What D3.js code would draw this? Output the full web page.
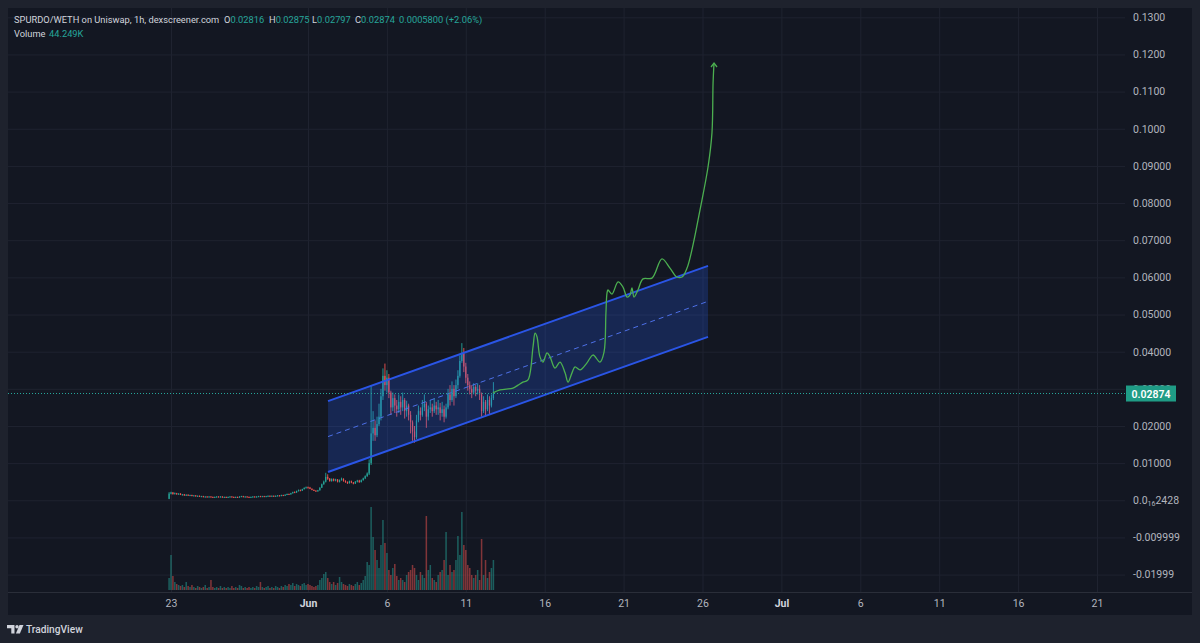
<!DOCTYPE html>
<html><head><meta charset="utf-8">
<script src="https://cdn.jsdelivr.net/npm/d3@7"></script>
<style>
html,body{margin:0;padding:0;background:#1e222d;overflow:hidden;}
svg{display:block;}
text{font-family:Roboto,"Noto Sans",sans-serif;}
</style></head><body>
<svg id="c" width="1200" height="643"></svg>
<script>
// ---------------- DATA ----------------
const candleStartISO = "2023-05-22T21:00";
const candleHours = 3;
const opens = [
0.0004,0.0018,0.0021,0.0017,0.0019,0.0016,0.0018,0.0015,0.0016,0.0013,
0.0015,0.0013,0.0014,0.0012,0.0013,0.0011,0.0012,0.0010,0.0011,0.0009,
0.0010,0.0009,0.0010,0.0009,0.0008,0.0009,0.0010,0.0009,0.0010,0.0008,
0.0009,0.0008,0.0009,0.0010,0.0009,0.0008,0.0009,0.0008,0.0010,0.0011,
0.0009,0.0010,0.0009,0.0008,0.0009,0.0010,0.0009,0.0010,0.0011,0.0010,
0.0011,0.0010,0.0011,0.0012,0.0011,0.0012,0.0011,0.0012,0.0013,0.0012,
0.0014,0.0013,0.0015,0.0017,0.0016,0.0019,0.0022,0.0021,0.0025,0.0027,
0.0026,0.0030,0.0033,0.0035,0.0034,0.0031,0.0028,0.0026,0.0024,0.0027,
0.0034,0.0043,0.0050,0.0063,0.0058,0.0052,0.0057,0.0053,0.0056,0.0050,
0.0054,0.0058,0.0052,0.0049,0.0046,0.0051,0.0048,0.0045,0.0050,0.0053,
0.0049,0.0054,0.0059,0.0065,
0.0072,0.0100,0.0180,0.0195,0.0175,0.0205,0.0225,0.0280,0.0335,0.0310,
0.0330,0.0290,0.0250,0.0275,0.0255,0.0245,0.0265,0.0250,0.0270,0.0240,
0.0255,0.0230,0.0210,0.0185,0.0170,0.0215,0.0240,0.0230,0.0250,0.0260,
0.0225,0.0245,0.0250,0.0240,0.0255,0.0245,0.0250,0.0235,0.0245,0.0225,
0.0250,0.0285,0.0270,0.0300,0.0280,0.0310,0.0335,0.0375,0.0395,0.0360,
0.0330,0.0310,0.0300,0.0290,0.0305,0.0295,0.0300,0.0285,0.0240,0.0265,
0.0245,0.0270,0.0255,0.0275];
const closes = [
0.0018,0.0021,0.0017,0.0019,0.0016,0.0018,0.0015,0.0016,0.0013,0.0015,
0.0013,0.0014,0.0012,0.0013,0.0011,0.0012,0.0010,0.0011,0.0009,0.0010,
0.0009,0.0010,0.0009,0.0008,0.0009,0.0010,0.0009,0.0010,0.0008,0.0009,
0.0008,0.0009,0.0010,0.0009,0.0008,0.0009,0.0008,0.0010,0.0011,0.0009,
0.0010,0.0009,0.0008,0.0009,0.0010,0.0009,0.0010,0.0011,0.0010,0.0011,
0.0010,0.0011,0.0012,0.0011,0.0012,0.0011,0.0012,0.0013,0.0012,0.0014,
0.0013,0.0015,0.0017,0.0016,0.0019,0.0022,0.0021,0.0025,0.0027,0.0026,
0.0030,0.0033,0.0035,0.0034,0.0031,0.0028,0.0026,0.0024,0.0027,0.0034,
0.0043,0.0050,0.0063,0.0058,0.0052,0.0057,0.0053,0.0056,0.0050,0.0054,
0.0058,0.0052,0.0049,0.0046,0.0051,0.0048,0.0045,0.0050,0.0053,0.0049,
0.0054,0.0059,0.0065,0.0072,
0.0100,0.0180,0.0195,0.0175,0.0205,0.0225,0.0280,0.0335,0.0310,0.0330,
0.0290,0.0250,0.0275,0.0255,0.0245,0.0265,0.0250,0.0270,0.0240,0.0255,
0.0230,0.0210,0.0185,0.0170,0.0215,0.0240,0.0230,0.0250,0.0260,0.0225,
0.0245,0.0250,0.0240,0.0255,0.0245,0.0250,0.0235,0.0245,0.0225,0.0250,
0.0285,0.0270,0.0300,0.0280,0.0310,0.0335,0.0375,0.0395,0.0360,0.0330,
0.0310,0.0300,0.0290,0.0305,0.0295,0.0300,0.0285,0.0240,0.0265,0.0245,
0.0270,0.0255,0.0275,0.0287];
const highs = [
0.0022,0.0023,0.0022,0.0021,0.0020,0.0019,0.0019,0.0017,0.0017,0.0016,
0.0016,0.0015,0.0015,0.0014,0.0014,0.0013,0.0013,0.0012,0.0012,0.0011,
0.0011,0.0011,0.0011,0.0010,0.0010,0.0011,0.0011,0.0011,0.0011,0.0010,
0.0010,0.0010,0.0011,0.0011,0.0010,0.0010,0.0010,0.0011,0.0012,0.0012,
0.0011,0.0011,0.0010,0.0010,0.0011,0.0011,0.0011,0.0012,0.0012,0.0012,
0.0012,0.0012,0.0013,0.0013,0.0013,0.0013,0.0013,0.0014,0.0014,0.0015,
0.0015,0.0016,0.0018,0.0018,0.0020,0.0023,0.0024,0.0026,0.0029,0.0029,
0.0031,0.0035,0.0037,0.0037,0.0036,0.0032,0.0029,0.0027,0.0028,0.0035,
0.0045,0.0053,0.0074,0.0070,0.0060,0.0059,0.0059,0.0058,0.0057,0.0056,
0.0061,0.0059,0.0054,0.0051,0.0053,0.0053,0.0049,0.0052,0.0055,0.0055,
0.0056,0.0061,0.0067,0.0075,
0.0110,0.0310,0.0240,0.0215,0.0225,0.0260,0.0300,0.0355,0.0368,0.0350,
0.0340,0.0295,0.0290,0.0285,0.0270,0.0285,0.0280,0.0290,0.0275,0.0268,
0.0260,0.0240,0.0215,0.0200,0.0230,0.0255,0.0250,0.0270,0.0285,0.0265,
0.0255,0.0270,0.0260,0.0275,0.0265,0.0270,0.0262,0.0265,0.0255,0.0260,
0.0300,0.0310,0.0320,0.0310,0.0325,0.0350,0.0390,0.0423,0.0410,0.0370,
0.0340,0.0320,0.0310,0.0315,0.0310,0.0315,0.0310,0.0290,0.0280,0.0270,
0.0285,0.0280,0.0285,0.0318];
const lows = [
0.0003,0.0016,0.0015,0.0016,0.0015,0.0015,0.0014,0.0013,0.0012,0.0012,
0.0012,0.0012,0.0011,0.0011,0.0010,0.0010,0.0009,0.0009,0.0008,0.0008,
0.0008,0.0008,0.0008,0.0007,0.0007,0.0008,0.0008,0.0008,0.0007,0.0007,
0.0007,0.0007,0.0008,0.0008,0.0007,0.0007,0.0007,0.0007,0.0009,0.0008,
0.0008,0.0008,0.0007,0.0007,0.0008,0.0008,0.0008,0.0009,0.0009,0.0009,
0.0009,0.0009,0.0010,0.0010,0.0010,0.0010,0.0010,0.0011,0.0011,0.0011,
0.0012,0.0012,0.0014,0.0015,0.0015,0.0018,0.0020,0.0020,0.0024,0.0025,
0.0025,0.0029,0.0032,0.0032,0.0030,0.0027,0.0025,0.0023,0.0023,0.0026,
0.0033,0.0042,0.0048,0.0055,0.0050,0.0050,0.0051,0.0051,0.0048,0.0048,
0.0053,0.0050,0.0047,0.0044,0.0045,0.0046,0.0043,0.0044,0.0048,0.0047,
0.0048,0.0053,0.0057,0.0063,
0.0068,0.0095,0.0160,0.0160,0.0170,0.0200,0.0215,0.0270,0.0295,0.0290,
0.0275,0.0230,0.0240,0.0235,0.0225,0.0235,0.0230,0.0240,0.0220,0.0225,
0.0215,0.0180,0.0160,0.0155,0.0165,0.0210,0.0215,0.0225,0.0240,0.0195,
0.0215,0.0235,0.0225,0.0235,0.0230,0.0230,0.0215,0.0225,0.0210,0.0220,
0.0245,0.0255,0.0265,0.0255,0.0275,0.0300,0.0330,0.0370,0.0345,0.0315,
0.0295,0.0285,0.0275,0.0285,0.0280,0.0285,0.0270,0.0225,0.0235,0.0225,
0.0240,0.0230,0.0250,0.0270];
const volumesK = [
12,35,14,8,6,5,4,5,3,8, 4,3,5,3,2,4,3,2,3,5, 2,3,10,3,2,3,2,4,2,3,
2,3,2,4,2,3,2,5,4,2, 3,2,3,2,3,2,4,3,8,3, 2,3,4,2,3,2,4,3,2,4,
3,5,4,6,5,7,4,6,5,4, 6,7,5,6,5,4,3,4,5,10, 12,16,18,12,8,6,8,5,7,13,
8,6,5,4,6,5,4,6,8,5, 7,10,14,28,
25,83,53,40,30,22,45,70,47,37, 20,15,22,26,14,10,12,10,8,15,
18,20,25,22,15,10,18,15,12,74, 20,25,12,10,8,15,18,20,30,58,
15,25,18,20,30,54,35,78,45,40, 25,22,15,12,15,20,10,51,15,30,
12,18,22,30];

// projected path (hand drawing): day of June (fractional) and price
const projDay = [12.72,13.17,13.99,14.31,14.62,14.94,15.26,15.39,15.51,15.70,15.89,16.15,16.34,16.65,16.97,17.29,17.48,17.73,17.92,18.24,18.68,19.06,19.50,19.76,19.88,19.95,20.01,20.26,20.65,20.96,21.22,21.41,21.53,21.66,21.91,22.23,22.80,23.43,23.94,24.38,24.70,25.02,25.33,25.84,26.35,26.60,26.67,26.73];
const projValue = [0.0289,0.0297,0.0302,0.0310,0.0318,0.0324,0.0413,0.0450,0.0440,0.0386,0.0372,0.0397,0.0386,0.0356,0.0372,0.0343,0.0318,0.0343,0.0359,0.0351,0.0370,0.0391,0.0372,0.0399,0.0504,0.0558,0.0566,0.0555,0.0588,0.0574,0.0547,0.0553,0.0572,0.0547,0.0566,0.0596,0.0598,0.0650,0.0625,0.0601,0.0601,0.0625,0.0674,0.0781,0.0897,0.0989,0.1123,0.1177];

// parallel channel (day of June, price)
const channelDay = [2.27, 26.35];
const channelUpper = [0.0267, 0.0631];
const channelLower = [0.0076, 0.0440];

const lastPrice = 0.02874;
const lastPriceLabel = "0.02874";

const yTickValues = [0.13,0.12,0.11,0.10,0.09,0.08,0.07,0.06,0.05,0.04,0.03,0.02,0.01,0,-0.01,-0.02];
const yTickLabels = ["0.1300","0.1200","0.1100","0.1000","0.09000","0.08000","0.07000","0.06000","0.05000","0.04000","0.03000","0.02000","0.01000","0.0|16|2428","-0.009999","-0.01999"];
const xTickDates = ["2023-05-23","2023-06-01","2023-06-06","2023-06-11","2023-06-16","2023-06-21","2023-06-26","2023-07-01","2023-07-06","2023-07-11","2023-07-16","2023-07-21"];
const xTickLabels = ["23","Jun","6","11","16","21","26","Jul","6","11","16","21"];

const legendTitle = "SPURDO/WETH on Uniswap, 1h, dexscreener.com";
const legendOHLC = [["O","0.02816"],["H","0.02875"],["L","0.02797"],["C","0.02874"]];
const legendChange = "0.0005800 (+2.06%)";
const legendVolume = "44.249K";

// ---------------- CHART ----------------
const W = 1200, H = 643;
const paneL = 8, paneR = 1192, paneT = 8, paneB = 592, axisB = 615, plotR = 1125;
const UP = "#26a69a", DOWN = "#ef5350";
const svg = d3.select("#c");

const parseDay = d3.timeParse("%Y-%m-%d");
const parseISO = d3.timeParse("%Y-%m-%dT%H:%M");
const x = d3.scaleTime()
  .domain([parseDay("2023-05-23"), parseDay("2023-06-01"), parseDay("2023-07-21")])
  .range([171, 308, 1097]);
const y = d3.scaleLinear().domain([-0.02, 0.13]).range([574.6, 17.3]);
const yVol = d3.scaleLinear().domain([0, 100]).range([590, 490]);
const junDay = d => new Date(+parseDay("2023-06-01") + (d - 1) * 86400000);

svg.append("rect").attr("width", W).attr("height", H).attr("fill", "#1e222d");
svg.append("rect").attr("x", paneL).attr("y", paneT).attr("width", paneR - paneL)
  .attr("height", axisB - paneT).attr("fill", "#131722");

const defs = svg.append("defs");
defs.append("clipPath").attr("id", "plot").append("rect")
  .attr("x", paneL).attr("y", paneT).attr("width", plotR - paneL).attr("height", paneB - paneT);

// grid
const grid = svg.append("g").attr("clip-path", "url(#plot)");
grid.append("g").attr("transform", `translate(0,${paneB})`)
  .call(d3.axisBottom(x).tickValues(xTickDates.map(parseDay)).tickSize(-(paneB - paneT)).tickFormat(""))
  .call(g => g.select(".domain").remove())
  .call(g => g.selectAll("line").attr("stroke", "#1f2330").attr("stroke-width", 1));
grid.append("g").attr("transform", `translate(${paneL},0)`)
  .call(d3.axisRight(y).tickValues(yTickValues).tickSize(plotR - paneL).tickFormat(""))
  .call(g => g.select(".domain").remove())
  .call(g => g.selectAll("line").attr("stroke", "#1f2330").attr("stroke-width", 1));

// separator lines
svg.append("line").attr("x1", paneL).attr("x2", paneR).attr("y1", paneB + 0.5).attr("y2", paneB + 0.5).attr("stroke", "#2a2e39");

const candles = closes.map((c, i) => ({
  t: new Date(+parseISO(candleStartISO) + i * candleHours * 3600000),
  o: opens[i], h: highs[i], l: lows[i], c: c, v: volumesK[i]
}));
const step = x(candles[1].t) - x(candles[0].t);
const plot = svg.append("g").attr("clip-path", "url(#plot)");

// volume
plot.append("g").selectAll("rect").data(candles).join("rect")
  .attr("x", d => x(d.t) - step * 0.4)
  .attr("width", step * 0.8)
  .attr("y", d => yVol(d.v))
  .attr("height", d => yVol(0) - yVol(d.v))
  .attr("fill", d => d.c >= d.o ? UP : DOWN)
  .attr("opacity", 0.5);

// candles
const cg = plot.append("g");
cg.selectAll("line").data(candles).join("line")
  .attr("x1", d => x(d.t)).attr("x2", d => x(d.t))
  .attr("y1", d => y(d.h)).attr("y2", d => y(d.l))
  .attr("stroke", d => d.c >= d.o ? UP : DOWN).attr("stroke-width", 0.9);
const bw = Math.max(1, step * 0.65);
cg.selectAll("rect").data(candles).join("rect")
  .attr("x", d => x(d.t) - bw / 2).attr("width", bw)
  .attr("y", d => y(Math.max(d.o, d.c)))
  .attr("height", d => Math.max(1, Math.abs(y(d.o) - y(d.c))))
  .attr("fill", d => d.c >= d.o ? UP : DOWN);

// channel
const cx0 = x(junDay(channelDay[0])), cx1 = x(junDay(channelDay[1]));
const chan = plot.append("g");
chan.append("path")
  .attr("d", `M${cx0},${y(channelUpper[0])}L${cx1},${y(channelUpper[1])}L${cx1},${y(channelLower[1])}L${cx0},${y(channelLower[0])}Z`)
  .attr("fill", "rgba(41,98,255,0.22)");
[channelUpper, channelLower].forEach(arr => {
  chan.append("line").attr("x1", cx0).attr("x2", cx1).attr("y1", y(arr[0])).attr("y2", y(arr[1]))
    .attr("stroke", "#2a55e6").attr("stroke-width", 2);
});
chan.append("line").attr("x1", cx0).attr("x2", cx1)
  .attr("y1", y((channelUpper[0] + channelLower[0]) / 2)).attr("y2", y((channelUpper[1] + channelLower[1]) / 2))
  .attr("stroke", "#4d70e8").attr("stroke-width", 1).attr("stroke-dasharray", "5,4");

// projection line
const proj = projDay.map((d, i) => [x(junDay(d)), y(projValue[i])]);
plot.append("path").attr("d", d3.line().curve(d3.curveCatmullRom.alpha(0.5))(proj))
  .attr("fill", "none").attr("stroke", "#4caf50").attr("stroke-width", 1.3);
const [ax, ay] = proj[proj.length - 1];
plot.append("path").attr("d", `M${ax - 3},${ay + 4}L${ax},${ay}L${ax + 3},${ay + 4}`)
  .attr("fill", "none").attr("stroke", "#4caf50").attr("stroke-width", 1.3);

// last price dotted line
svg.append("line").attr("x1", paneL).attr("x2", plotR + 1).attr("y1", y(lastPrice)).attr("y2", y(lastPrice))
  .attr("stroke", UP).attr("stroke-width", 1).attr("stroke-dasharray", "1,2");

// y axis labels
const yAx = svg.append("g").attr("transform", `translate(1133,0)`)
  .call(d3.axisRight(y).tickValues(yTickValues).tickSize(0).tickPadding(0)
    .tickFormat((d, i) => yTickLabels[i]))
  .call(g => g.select(".domain").remove());
yAx.selectAll("text").attr("fill", "#b2b5be").attr("font-size", "10.5px")
  .attr("font-family", "Roboto, 'Noto Sans', sans-serif")
  .each(function (d, i) {
    const lab = yTickLabels[i];
    if (lab.includes("|")) {
      const parts = lab.split("|");
      const t = d3.select(this).text(null);
      t.append("tspan").text(parts[0]);
      t.append("tspan").text(parts[1]).attr("font-size", "7px").attr("dy", "2");
      t.append("tspan").text(parts[2]).attr("dy", "-2");
    }
  });

// price label
const py = y(lastPrice);
svg.append("rect").attr("x", 1126).attr("y", py - 8).attr("width", 50).attr("height", 16).attr("fill", "#1f9c86");
svg.append("text").attr("x", 1151).attr("y", py + 4).attr("text-anchor", "middle")
  .attr("fill", "#ffffff").attr("font-size", "10.5px").attr("font-weight", "600").text(lastPriceLabel);

// x axis labels
const xAx = svg.append("g").attr("transform", `translate(0,${paneB})`)
  .call(d3.axisBottom(x).tickValues(xTickDates.map(parseDay)).tickSize(0).tickPadding(0)
    .tickFormat((d, i) => xTickLabels[i]))
  .call(g => g.select(".domain").remove());
xAx.selectAll("text").attr("y", 15).attr("dy", null)
  .attr("fill", (d, i) => /[A-Za-z]/.test(xTickLabels[i]) ? "#d1d4dc" : "#b2b5be")
  .attr("font-weight", (d, i) => /[A-Za-z]/.test(xTickLabels[i]) ? "700" : "400")
  .attr("font-size", "10.5px").attr("font-family", "Roboto, 'Noto Sans', sans-serif");

// legend
const lg = svg.append("g").attr("font-size", "9.3px");
lg.append("text").attr("x", 14).attr("y", 22.5).attr("fill", "#d1d4dc").text(legendTitle);
const legX = [224, 269, 312, 355];
legendOHLC.forEach((p, i) => {
  const t = lg.append("text").attr("x", legX[i]).attr("y", 22.5);
  t.append("tspan").attr("fill", "#d1d4dc").text(p[0]);
  t.append("tspan").attr("fill", UP).text(p[1]);
});
lg.append("text").attr("x", 399).attr("y", 22.5).attr("fill", UP).text(legendChange);
const vt = lg.append("text").attr("x", 14).attr("y", 36.5);
vt.append("tspan").attr("fill", "#d1d4dc").text("Volume");
vt.append("tspan").attr("x", 49).attr("fill", UP).text(legendVolume);

// TradingView logo
const logo = svg.append("g").attr("fill", "#d1d4dc");
logo.append("path").attr("d", "M7,625 h7.5 v8.5 h-3.2 v-5.3 h-4.3 z");
logo.append("circle").attr("cx", 17).attr("cy", 626.8).attr("r", 1.7);
logo.append("path").attr("d", "M19.5,625 h4 l-3.6,8.5 h-4 z");
svg.append("text").attr("x", 26).attr("y", 633).attr("fill", "#d1d4dc")
  .attr("font-size", "10.2px").attr("font-weight", "500").text("TradingView");
</script>
</body></html>
